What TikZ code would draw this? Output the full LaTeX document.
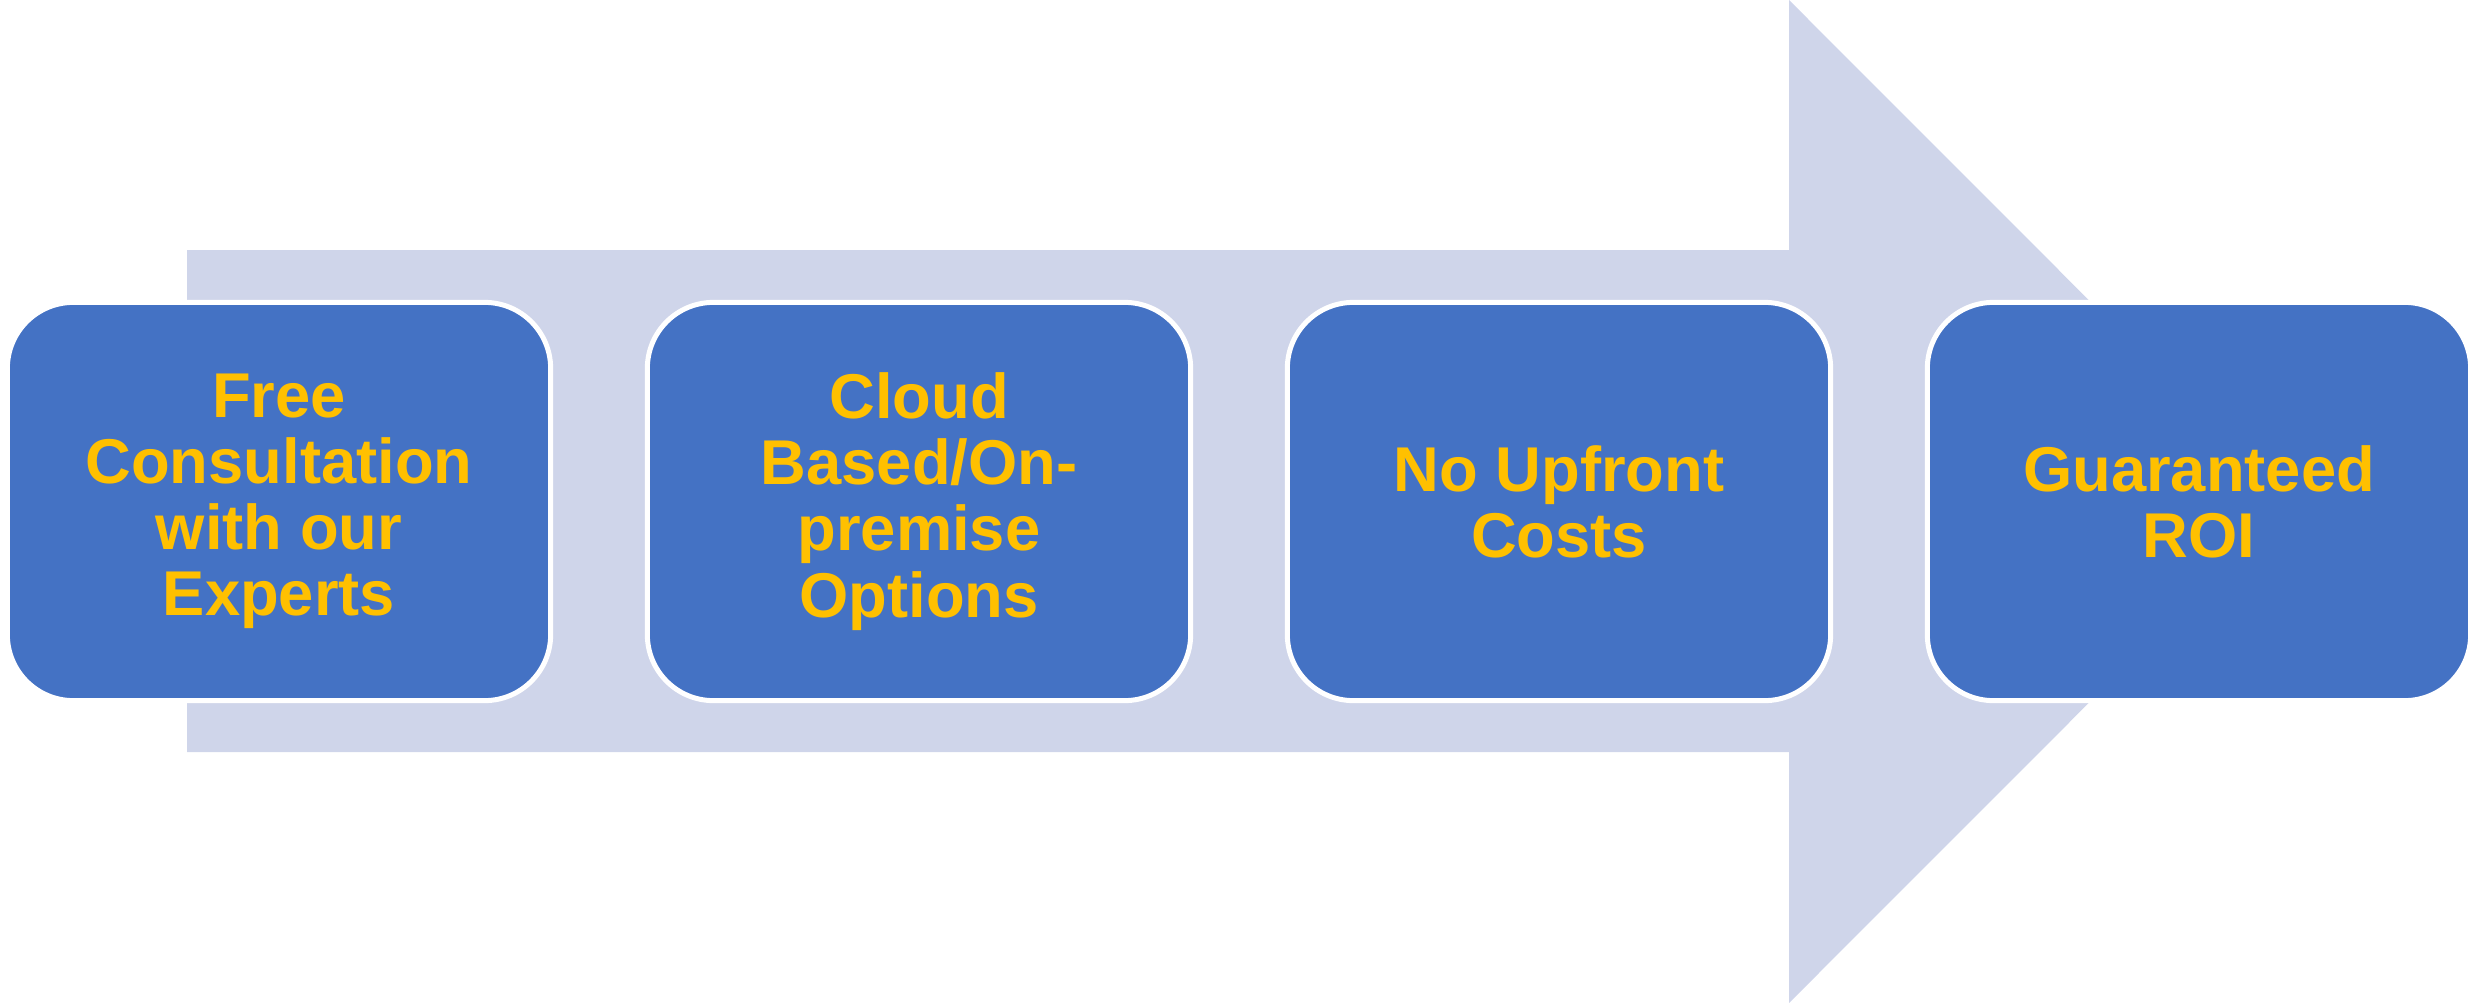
\documentclass[tikz,border=0pt]{standalone}
\usepackage{fontspec}
\setmainfont{Liberation Sans}
\definecolor{arrowfill}{HTML}{CFD5EA}
\definecolor{boxfill}{HTML}{4472C4}
\definecolor{boxtext}{HTML}{FFC000}
\begin{document}
\begin{tikzpicture}[x=0.01cm,y=-0.01cm,
  stepbox/.style={draw=white, line width=1.42pt, fill=boxfill, rounded corners=0.66cm,
    minimum width=5.43cm, minimum height=3.98cm, inner sep=0pt, align=center,
    text=boxtext, font=\fontsize{18}{18.8}\selectfont\bfseries}]
\useasboundingbox (0,0) rectangle (2478,1003);
\fill[arrowfill] (187,250) -- (1789,250) -- (1789,0) -- (2290,501.5) -- (1789,1003) -- (1789,752) -- (187,752) -- cycle;
\node[stepbox] (s1) at (279,501.5) {Free\\Consultation\\with our\\Experts};
\node[stepbox] (s2) at (919,501.5) {Cloud\\Based/On-\\premise\\Options};
\node[stepbox] (s3) at (1559,501.5) {No Upfront\\Costs};
\node[stepbox] (s4) at (2199,501.5) {Guaranteed\\ROI};
\end{tikzpicture}
\end{document}
